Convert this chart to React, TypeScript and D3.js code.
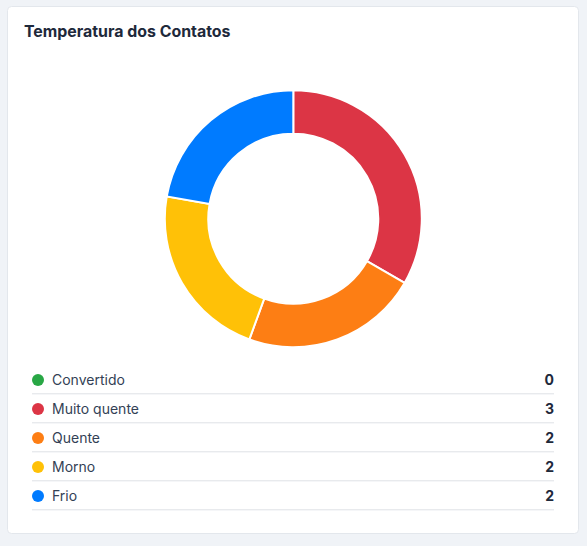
import React from "react";
import * as d3 from "d3";

const categories = ["Convertido", "Muito quente", "Quente", "Morno", "Frio"];
const values = [0, 3, 2, 2, 2];
const colors = ["#28a745", "#dc3545", "#fd7e14", "#ffc107", "#007bff"];
const title = "Temperatura dos Contatos";

const W = 587;
const H = 546;

export default function App() {
  const cx = 293.3;
  const cy = 218.7;
  const outerR = 128.5;
  const innerR = 85;

  const data = categories.map((c, i) => ({ name: c, value: values[i], color: colors[i] }));
  const pie = d3.pie<any>().sort(null).value((d) => d.value);
  const arcs = pie(data);
  const arc = d3.arc<any>().innerRadius(innerR).outerRadius(outerR);

  const rowY = d3.scaleLinear().domain([0, 1]).range([380, 409]);
  const legendLeft = 32;
  const legendRight = 554;

  return (
    <svg
      width={W}
      height={H}
      style={{ position: "absolute", left: 0, top: 0, fontFamily: "Inter, sans-serif" }}
    >
      <rect x={0} y={0} width={W} height={H} fill="#f0f3f7" />
      <rect x={7.5} y={6.5} width={571} height={527} rx={4} fill="#ffffff" stroke="#e3e7ec" />
      <text x={24} y={37} fontSize={15.9} fontWeight={700} fill="#1e293b">
        {title}
      </text>
      <g transform={`translate(${cx},${cy})`}>
        {arcs
          .filter((a) => a.value > 0)
          .map((a, i) => (
            <path key={i} d={arc(a) as string} fill={a.data.color} stroke="#ffffff" strokeWidth={2} />
          ))}
      </g>
      <g>
        {data.map((d, i) => {
          const y = rowY(i);
          return (
            <g key={d.name}>
              <circle cx={38} cy={y} r={6} fill={d.color} />
              <text x={52} y={y} dy="0.36em" fontSize={14} fill="#334155">
                {d.name}
              </text>
              <text x={legendRight} y={y} dy="0.36em" fontSize={14} fontWeight={700} fill="#1e293b" textAnchor="end">
                {d.value}
              </text>
              <line x1={legendLeft} x2={legendRight} y1={y + 13.8} y2={y + 13.8} stroke="#dee2e6" strokeWidth={1} />
            </g>
          );
        })}
      </g>
    </svg>
  );
}
